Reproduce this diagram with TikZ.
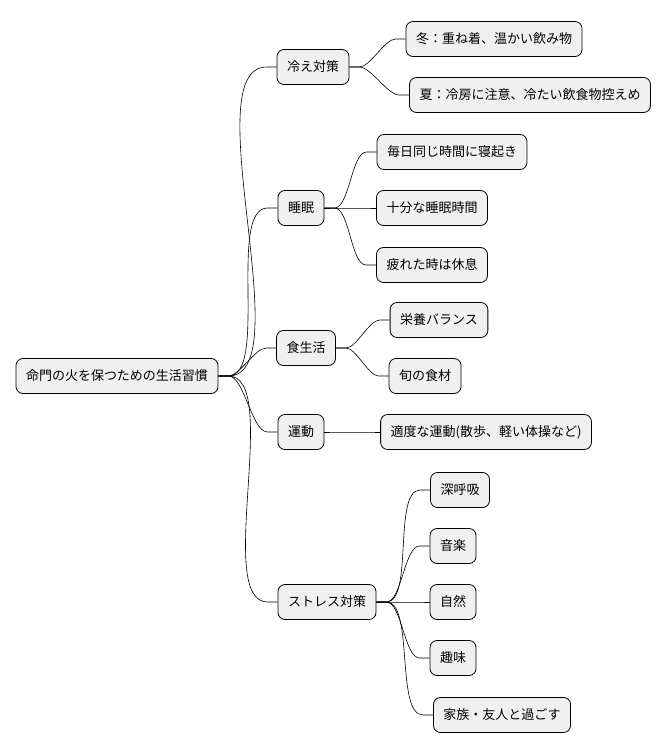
\documentclass[tikz,border=0pt]{standalone}
\usepackage{fontspec}
\setmainfont{Noto Sans CJK JP}
\begin{document}
\begin{tikzpicture}[x=1pt,y=-1pt,
    topic/.style={draw=black,fill=black!6,rounded corners=7pt,inner xsep=10pt,
      minimum height=35pt,font=\fontsize{13}{15}\selectfont,line width=0.8pt},
    link/.style={line width=0.6pt}]
  \useasboundingbox (0,0) rectangle (670,752);
  \node[topic] (root) at (117,376) {命門の火を保つための生活習慣};
  \node[topic] (cold) at (313,67) {冷え対策};
  \node[topic] (winter) at (494,39) {冬：重ね着、温かい飲み物};
  \node[topic] (summer) at (530,95) {夏：冷房に注意、冷たい飲食物控えめ};
  \node[topic] (sleep) at (301,208) {睡眠};
  \node[topic] (daily) at (452,152) {毎日同じ時間に寝起き};
  \node[topic] (enough) at (432,208) {十分な睡眠時間};
  \node[topic] (rest) at (432,265) {疲れた時は休息};
  \node[topic] (diet) at (306,348) {食生活};
  \node[topic] (balance) at (439,320) {栄養バランス};
  \node[topic] (season) at (425,376) {旬の食材};
  \node[topic] (exercise) at (301,432) {運動};
  \node[topic] (moderate) at (486,432) {適度な運動(散歩、軽い体操など)};
  \node[topic] (stress) at (327,602) {ストレス対策};
  \node[topic] (breath) at (460,490) {深呼吸};
  \node[topic] (music) at (453,546) {音楽};
  \node[topic] (nature) at (453,602) {自然};
  \node[topic] (hobby) at (453,658) {趣味};
  \node[topic] (family) at (502,715) {家族・友人と過ごす};
  % connectors
  \foreach \p/\c in {root/cold,root/sleep,root/diet,root/exercise,root/stress,
      cold/winter,cold/summer,sleep/daily,sleep/enough,sleep/rest,
      diet/balance,diet/season,exercise/moderate,
      stress/breath,stress/music,stress/nature,stress/hobby,stress/family}
    \draw[link] (\p.east) -- ++(10,0) to[out=0,in=180,looseness=0.6] ([xshift=-10pt]\c.west) -- (\c.west);
\end{tikzpicture}
\end{document}
